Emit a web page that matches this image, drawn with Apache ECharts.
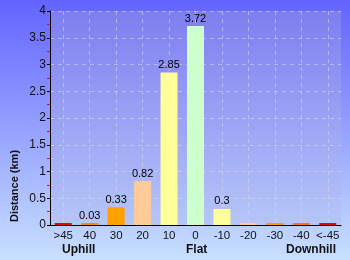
<!DOCTYPE html>
<html><head><meta charset="utf-8">
<script src="https://cdn.jsdelivr.net/npm/echarts@6/dist/echarts.min.js"></script>
<style>html,body{margin:0;padding:0;}#c{width:350px;height:260px;}</style>
</head><body><div id="c"></div>
<script>
var categories = ['>45', '40', '30', '20', '10', '0', '-10', '-20', '-30', '-40', '<-45'];
var distances = [0.01, 0.03, 0.33, 0.82, 2.85, 3.72, 0.3, 0.01, 0.01, 0.01, 0.01];
var barColors = ['#ee0000', '#ff8800', '#ffa000', '#ffcc99', '#ffff99', '#ccffcc', '#ffff99', '#ffcc99', '#ff9900', '#ff7700', '#ee0000'];
var yTicks = [0, 0.5, 1, 1.5, 2, 2.5, 3, 3.5, 4];
var groupLabels = ['Uphill', 'Flat', 'Downhill'];

var chart = echarts.init(document.getElementById('c'));
var font = 'Liberation Sans, Arial, sans-serif';
chart.setOption({
  animation: false,
  backgroundColor: new echarts.graphic.LinearGradient(0, 0, 0, 1, [
    {offset: 0, color: '#6363ff'}, {offset: 1, color: '#c8e0ff'}]),
  grid: {
    left: 50, right: 9, top: 11, bottom: 35, show: true, borderWidth: 0,
    backgroundColor: new echarts.graphic.LinearGradient(0, 0, 0, 1, [
      {offset: 0, color: '#7e7ef0'}, {offset: 1, color: '#b6c6f8'}])
  },
  xAxis: {
    type: 'category', data: categories,
    axisLine: {lineStyle: {color: '#000', width: 1}},
    axisTick: {alignWithLabel: true, length: 3, lineStyle: {color: '#000'}},
    axisLabel: {color: '#111', fontSize: 11.5, fontFamily: font, margin: 5, interval: 0},
    splitLine: {show: true, alignWithLabel: true, lineStyle: {color: 'rgba(220,220,235,0.55)', type: [4, 4]}}
  },
  yAxis: {
    type: 'value', min: yTicks[0], max: yTicks[yTicks.length - 1], interval: 0.5,
    axisLine: {show: true, lineStyle: {color: '#000', width: 1}},
    axisTick: {show: true, length: 3, lineStyle: {color: '#000'}},
    minorTick: {show: true, splitNumber: 2, length: 3, lineStyle: {color: '#ff0000'}},
    axisLabel: {color: '#111', fontSize: 12, fontFamily: font, margin: 4},
    splitLine: {lineStyle: {color: 'rgba(220,220,235,0.55)', type: [4, 4]}}
  },
  series: [{
    type: 'bar', barWidth: 17, barMinHeight: 2,
    data: distances.map(function (v, i) {
      return {value: v, itemStyle: {color: barColors[i]}};
    }),
    label: {
      show: true, position: 'top', distance: 2, color: '#000', fontSize: 11, fontFamily: font,
      formatter: function (p) { return p.value >= 0.02 ? String(p.value) : ''; }
    }
  }],
  graphic: [
    {type: 'text', left: 62, top: 244, style: {text: groupLabels[0], font: 'bold 12px ' + font, fill: '#111'}},
    {type: 'text', left: 186, top: 244, style: {text: groupLabels[1], font: 'bold 12px ' + font, fill: '#111'}},
    {type: 'text', left: 286, top: 244, style: {text: groupLabels[2], font: 'bold 12px ' + font, fill: '#111'}},
    {type: 'text', x: 15, y: 186, rotation: Math.PI / 2, style: {text: 'Distance (km)', font: 'bold 11px ' + font, fill: '#111', align: 'center', verticalAlign: 'middle'}}
  ]
});
</script></body></html>
